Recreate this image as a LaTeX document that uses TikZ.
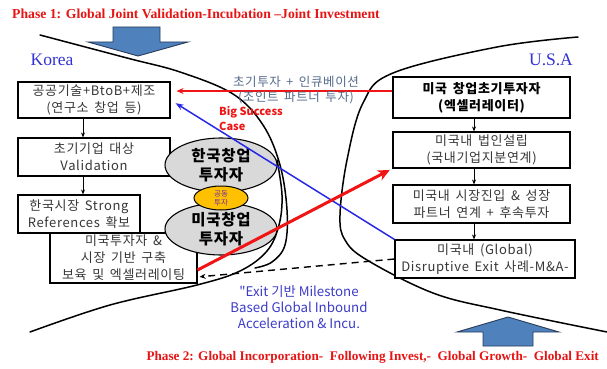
\documentclass[tikz,border=0pt]{standalone}
\usepackage{fontspec}
\setmainfont{Liberation Serif}
\newfontfamily\kr{Noto Sans CJK KR}
\newfontfamily\krw{Noto Sans CJK KR}[LetterSpace=5,WordSpace=1.6]
\usetikzlibrary{arrows.meta,calc,shapes.geometric}
\definecolor{ttlred}{RGB}{230,20,20}
\definecolor{lblue}{RGB}{50,50,210}
\definecolor{boxtxt}{RGB}{55,55,55}
\definecolor{ellgray}{RGB}{217,217,217}
\definecolor{ellyel}{RGB}{255,192,0}
\definecolor{purp}{RGB}{112,48,160}
\definecolor{arrfill}{RGB}{79,129,189}
\definecolor{arrdraw}{RGB}{40,60,90}
\definecolor{slate}{RGB}{84,106,140}
\definecolor{bline}{RGB}{40,40,230}
\definecolor{rline}{RGB}{240,20,20}
\definecolor{exitblue}{RGB}{60,60,200}
\begin{document}
\begin{tikzpicture}[x=1pt,y=-1pt,
  title/.style={text=ttlred,font=\bfseries\fontsize{13.2}{15}\selectfont,inner sep=0pt},
  land/.style={text=lblue,font=\fontsize{17.5}{19}\selectfont,inner sep=0pt},
  boxn/.style={draw,line width=1.1pt,fill=white,inner sep=0pt,align=center,text=boxtxt,
     font=\krw\fontsize{13}{17}\selectfont},
  ellg/.style={draw,line width=1.1pt,ellipse,fill=ellgray,inner sep=0pt,align=center,
     font=\krw\bfseries\fontsize{15.5}{19}\selectfont},
  flow/.style={-{Stealth[length=5pt,width=4pt]},line width=0.9pt},
  curve/.style={line width=1.5pt,line cap=round},
  bigarr/.style={fill=arrfill,draw=arrdraw,line width=0.9pt,line join=miter}
]
\useasboundingbox (0,0) rectangle (607,369);

% titles
\node[title,anchor=west,font=\bfseries\fontsize{13.7}{15}\selectfont] (t1) at (12,14) {Phase 1: Global Joint Validation-Incubation --Joint Investment};
\node[title,anchor=east] (t2) at (599,357) {Phase 2: Global Incorporation-\ \ Following Invest,-\ \ Global Growth-\ \ Global Exit};

% big arrows
\draw[bigarr] (113,27) -- (160,27) -- (160,42) -- (188,42) -- (138,56) -- (88,42) -- (113,42) -- cycle;
\draw[bigarr] (483,346) -- (483,332) -- (457,332) -- (508,317) -- (559,332) -- (533,332) -- (533,346) -- cycle;

% curves
\draw[curve] plot[smooth,tension=0.6] coordinates {(40,35) (127,58) (180,72) (233,94) (263,125) (280,165) (287,210) (285,245) (272,262) (255,268)};
\draw[curve] plot[smooth,tension=0.6] coordinates {(30,332) (110,305) (197,285) (240,271) (267,251) (279,225) (282,195) (277,160)};
\draw[curve] plot[smooth,tension=0.6] coordinates {(578,37) (497,47) (393,73) (363,103) (347,160) (340,215) (345,240) (367,260) (433,293) (500,310) (607,332)};

% labels
\node[land] (kor) at (52,60) {Korea};
\node[land] (usa) at (551,60) {U.S.A};

% left boxes
\node[boxn,minimum width=152pt,minimum height=36pt] (B1) at (94,100) {공공기술+BtoB+제조\\(연구소 창업 등)};
\node[boxn,minimum width=152pt,minimum height=38pt] (B2) at (94,157) {초기기업 대상\\Validation};
\node[boxn,minimum width=122pt,minimum height=38pt] (B3) at (79,214) {한국시장 Strong\\References 확보};
\node[boxn,minimum width=147pt,minimum height=50pt] (B4) at (123.5,258) {미국투자자 \&\\시장 기반 구축\\보육 및 엑셀러레이팅};

\coordinate (cx) at (83,0);
\draw[flow] (B1.south -| cx) -- (B2.north -| cx);
\draw[flow] (B2.south -| cx) -- (B3.north -| cx);

% ellipses
\node[ellg,minimum width=112pt,minimum height=54pt] (E1) at (221,165) {한국창업\\투자자};
\node[ellg,minimum width=112pt,minimum height=52pt] (E2) at (221,229) {미국창업\\투자자};
\node[draw,line width=1pt,ellipse,fill=ellyel,inner sep=0pt,minimum width=54pt,minimum height=24pt,align=center,text=purp,font=\kr\fontsize{7.5}{9}\selectfont] (E3) at (221,198) {공동\\투자};

% right boxes
\node[boxn,minimum width=177pt,minimum height=41pt,text=black,font=\krw\bfseries\fontsize{13}{17}\selectfont] (R1) at (481.5,97.5) {미국 창업초기투자자\\(엑셀러레이터)};
\node[boxn,minimum width=177pt,minimum height=36pt] (R2) at (481.5,150) {미국내 법인설립\\(국내기업지분연계)};
\node[boxn,minimum width=177pt,minimum height=38pt] (R3) at (481.5,204) {미국내 시장진입 \& 성장\\파트너 연계 + 후속투자};
\node[boxn,minimum width=180pt,minimum height=38pt] (R4) at (485,259) {미국내 (Global)\\Disruptive Exit 사례-M\&A-};

\coordinate (rx) at (474,0);
\draw[flow] (R1.south -| rx) -- (R2.north -| rx);
\draw[flow] (R2.south -| rx) -- (R3.north -| rx);
\draw[flow] (R3.south -| rx) -- (R4.north -| rx);

% connectors
\draw[rline,line width=1.2pt,-{Stealth[length=7pt,width=6pt]},shorten >=6pt] ([yshift=6.5pt]R1.west) -- ([yshift=9pt]B1.east);
\draw[bline,line width=1.5pt,-{Stealth[length=8pt,width=6pt]},shorten >=6pt] (R4.north west) -- (B1.east);
\draw[rline,line width=3pt,-{Stealth[length=12pt,width=11pt]},shorten >=3pt] ([yshift=-12pt]B4.east) -- (R2.south west);
\draw[line width=1.4pt,dash pattern=on 7pt off 5pt,-{Stealth[length=6pt,width=5pt]},shorten >=2pt] (R4.west) -- ([yshift=-19pt]B4.east);

% texts
\node[text=slate,align=center,font=\krw\fontsize{12.5}{14.5}\selectfont,inner sep=0pt] (jt) at (296,90) {초기투자 + 인큐베이션\\(조인트 파트너 투자)};
\node[text=rline,align=left,anchor=north west,font=\kr\bfseries\fontsize{11}{15}\selectfont,inner sep=0pt] (bs) at (219,106) {Big Success\\Case};
\node[text=exitblue,align=center,font=\kr\fontsize{13.3}{16}\selectfont,inner sep=0pt] (ex) at (299,307) {"Exit 기반 Milestone\\Based Global Inbound\\Acceleration \& Incu.};

\end{tikzpicture}
\end{document}
